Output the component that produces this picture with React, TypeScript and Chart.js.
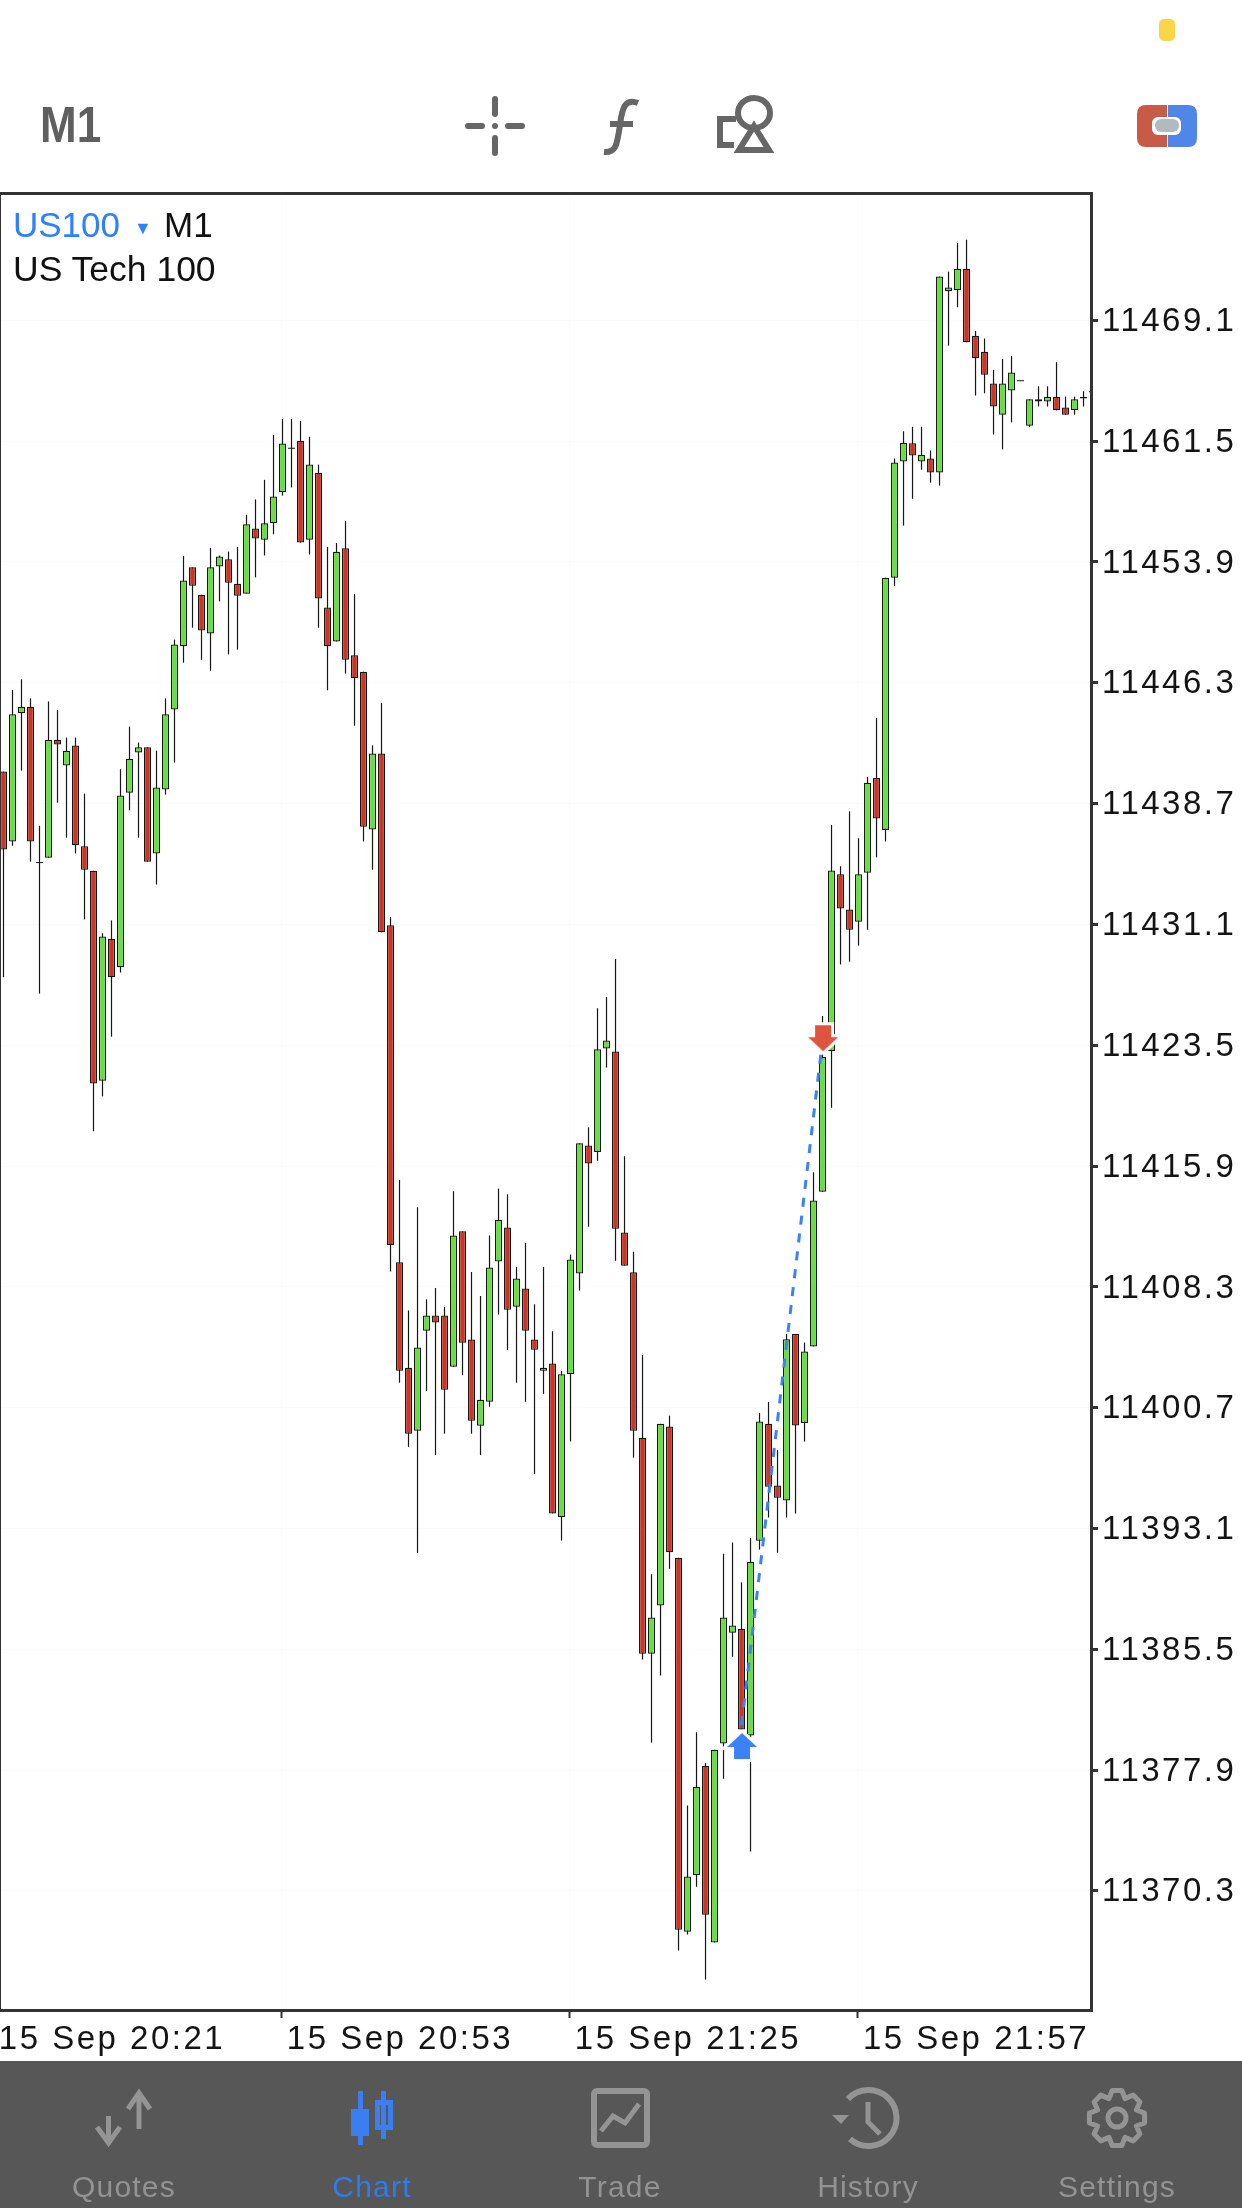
import React, {useEffect, useRef} from 'react';
import Chart from 'chart.js/auto';

// one candle per minute, first bar is 15 Sep 20:22
const opens = [
    11440.69, 11436.29, 11444.36, 11444.78, 11434.96, 11435.27, 11442.70, 11441.08, 11442.34, 11435.99,
    11434.45, 11421.23, 11430.17, 11428.37, 11439.36, 11441.89, 11442.22, 11435.54, 11439.57, 11444.60,
    11448.58, 11453.55, 11451.83, 11449.39, 11453.61, 11454.06, 11452.52, 11451.89, 11455.99, 11455.29,
    11456.32, 11458.28, 11461.05, 11461.53, 11455.29, 11459.51, 11451.02, 11448.88, 11454.75, 11448.01,
    11446.98, 11437.04, 11441.83, 11431.01, 11409.79, 11403.15, 11399.19, 11405.48, 11406.44, 11406.44,
    11403.21, 11411.74, 11404.93, 11399.50, 11401.01, 11409.84, 11411.98, 11406.99, 11408.14, 11404.93,
    11402.97, 11403.42, 11393.73, 11402.74, 11409.08, 11417.15, 11416.73, 11423.25, 11423.07, 11411.66,
    11409.16, 11398.75, 11385.15, 11388.18, 11399.45, 11391.19, 11367.63, 11371.20, 11378.09, 11366.96,
    11379.49, 11386.47, 11386.72, 11380.00, 11392.26, 11399.62, 11395.74, 11394.79, 11405.27, 11399.68,
    11404.49, 11414.23, 11423.10, 11434.22, 11432.00, 11431.24, 11434.32, 11440.29, 11437.01, 11452.90,
    11460.22, 11461.36, 11460.22, 11460.40, 11459.53, 11470.93, 11471.00, 11472.35, 11468.13, 11467.13,
    11465.13, 11463.16, 11464.68, 11465.30, 11462.47, 11464.13, 11463.99, 11464.30, 11463.61, 11463.44,
    11464.19, 11464.61,
];
const highs = [
    11440.69, 11445.84, 11446.50, 11445.30, 11437.28, 11445.11, 11444.57, 11442.83, 11442.83, 11439.30,
    11434.45, 11430.51, 11431.32, 11440.84, 11443.52, 11442.52, 11442.22, 11442.01, 11445.30, 11449.00,
    11454.27, 11453.55, 11451.83, 11454.78, 11454.30, 11454.54, 11454.84, 11456.86, 11457.83, 11459.06,
    11461.89, 11462.89, 11462.89, 11462.76, 11461.77, 11460.02, 11454.84, 11455.08, 11456.47, 11451.86,
    11446.98, 11442.34, 11445.02, 11431.53, 11414.98, 11406.76, 11413.26, 11407.46, 11408.17, 11406.97,
    11414.27, 11411.74, 11409.18, 11407.67, 11411.48, 11414.43, 11414.07, 11409.50, 11411.01, 11407.15,
    11409.50, 11405.45, 11402.95, 11410.28, 11417.28, 11418.29, 11425.79, 11426.49, 11428.89, 11416.47,
    11410.46, 11403.95, 11390.15, 11399.62, 11400.13, 11391.19, 11375.59, 11380.20, 11378.26, 11379.10,
    11391.44, 11392.15, 11389.64, 11392.43, 11400.30, 11401.00, 11397.96, 11405.27, 11405.27, 11404.74,
    11415.46, 11425.30, 11437.32, 11434.73, 11438.19, 11436.49, 11440.36, 11444.06, 11452.90, 11460.40,
    11462.12, 11462.40, 11462.40, 11460.91, 11471.86, 11472.17, 11473.97, 11474.18, 11468.44, 11467.96,
    11465.99, 11466.68, 11466.85, 11465.30, 11464.13, 11464.95, 11464.95, 11466.47, 11464.30, 11464.30,
    11464.64, 11464.86,
];
const lows = [
    11427.74, 11436.02, 11440.75, 11435.02, 11426.71, 11435.27, 11438.73, 11436.53, 11435.54, 11431.38,
    11418.04, 11420.24, 11424.00, 11428.04, 11438.25, 11436.53, 11435.02, 11433.58, 11439.24, 11441.26,
    11447.55, 11449.75, 11447.73, 11447.04, 11451.41, 11448.07, 11448.37, 11451.89, 11452.92, 11454.30,
    11455.63, 11458.07, 11458.58, 11455.11, 11454.36, 11449.75, 11445.81, 11448.88, 11446.86, 11443.58,
    11436.29, 11434.51, 11430.57, 11409.21, 11402.21, 11398.17, 11391.49, 11401.69, 11397.65, 11399.00,
    11403.21, 11402.68, 11399.00, 11397.65, 11400.70, 11406.50, 11404.28, 11402.21, 11401.01, 11396.47,
    11401.51, 11393.97, 11392.27, 11398.51, 11408.01, 11412.03, 11416.18, 11422.05, 11409.89, 11409.58,
    11397.49, 11384.78, 11379.55, 11383.77, 11390.49, 11366.45, 11367.46, 11370.47, 11364.62, 11366.96,
    11377.27, 11384.95, 11380.37, 11372.69, 11391.70, 11393.72, 11391.50, 11393.72, 11393.97, 11398.50,
    11404.49, 11414.23, 11419.52, 11428.55, 11428.72, 11429.73, 11430.73, 11435.29, 11436.29, 11452.38,
    11456.18, 11457.87, 11459.70, 11458.88, 11458.70, 11467.51, 11469.93, 11467.72, 11464.37, 11464.51,
    11461.92, 11460.98, 11462.68, 11465.30, 11462.40, 11463.68, 11463.68, 11463.44, 11463.16, 11463.16,
    11463.68, 11464.20,
];
const closes = [
    11435.78, 11444.30, 11444.78, 11436.29, 11434.96, 11442.70, 11442.40, 11442.01, 11436.05, 11434.51,
    11421.05, 11430.30, 11427.74, 11439.18, 11441.50, 11442.22, 11435.02, 11439.69, 11444.30, 11448.70,
    11452.73, 11452.40, 11449.57, 11453.55, 11454.24, 11452.58, 11451.77, 11456.26, 11455.36, 11456.32,
    11458.01, 11461.35, 11461.05, 11455.11, 11460.02, 11451.59, 11448.58, 11454.54, 11447.73, 11446.56,
    11437.22, 11441.83, 11430.57, 11410.86, 11402.97, 11399.00, 11404.43, 11406.44, 11406.00, 11401.77,
    11411.48, 11404.72, 11399.81, 11401.14, 11409.47, 11412.47, 11406.81, 11408.77, 11405.48, 11404.28,
    11403.15, 11393.97, 11402.74, 11409.97, 11417.28, 11416.02, 11423.20, 11423.75, 11411.90, 11409.58,
    11399.19, 11385.15, 11387.42, 11399.62, 11391.53, 11367.77, 11371.12, 11376.77, 11368.70, 11379.10,
    11387.42, 11386.92, 11380.37, 11390.94, 11399.76, 11395.66, 11394.96, 11404.94, 11399.51, 11404.18,
    11413.69, 11422.72, 11434.46, 11432.07, 11430.73, 11434.22, 11439.98, 11437.74, 11452.90, 11460.15,
    11461.40, 11460.60, 11460.64, 11459.53, 11471.86, 11471.17, 11472.35, 11467.72, 11466.72, 11465.68,
    11463.68, 11465.13, 11465.82, 11465.30, 11464.13, 11463.99, 11464.30, 11463.44, 11463.16, 11464.13,
    11464.30, 11464.61,
];

// tick positions, they drift a little from the printed labels
const yTicks = [11469.1, 11461.49, 11453.89, 11446.28, 11438.67, 11431.07, 11423.46, 11415.85, 11408.24, 11400.64, 11393.03, 11385.42, 11377.82, 11370.21];
const yTickLabels = ['11469.1', '11461.5', '11453.9', '11446.3', '11438.7', '11431.1', '11423.5', '11415.9', '11408.3', '11400.7', '11393.1', '11385.5', '11377.9', '11370.3'];
const xTicks = [-1.1, 30.9, 62.9, 94.9];
const xTickLabels = ['15 Sep 20:21', '15 Sep 20:53', '15 Sep 21:25', '15 Sep 21:57'];

// the trade: line from entry to exit, and the two arrows
const tradeLineX = [82, 90.83];
const tradeLineY = [11380.65, 11422.97];
const entryArrow = {x: 82.06, y: 11379.33};
const exitArrow = {x: 91.06, y: 11423.9};

const colours = {
    up: '#66DF3F',
    down: '#CC3523',
    candleBorder: '#161616',
    frame: '#333333',
    text: '#141414',
    grid: '#fbfbfb',
    blue: '#3B82F6',
    red: '#E0533F',
};

const makeArrow = (colour: string, up: boolean) => {
    const canvas = document.createElement('canvas');
    canvas.width = 46;
    canvas.height = 42;
    const ctx = canvas.getContext('2d');
    if (ctx) {
        if (!up) {
            ctx.translate(0, 42);
            ctx.scale(1, -1);
        }
        ctx.beginPath();
        ctx.moveTo(23, 8);
        ctx.lineTo(38, 22);
        ctx.lineTo(31, 22);
        ctx.lineTo(31, 34);
        ctx.lineTo(15, 34);
        ctx.lineTo(15, 22);
        ctx.lineTo(8, 22);
        ctx.closePath();
        ctx.lineJoin = 'miter';
        ctx.lineWidth = 6;
        ctx.strokeStyle = '#ffffff';
        ctx.stroke();
        ctx.fillStyle = colour;
        ctx.fill();
    }
    return canvas;
};

// outer frame of the plot, the axes only give the ticks
const framePlugin = {
    id: 'frame',
    beforeDraw: (chart: any) => {
        chart.ctx.letterSpacing = '2.5px';
    },
    afterDatasetsDraw: (chart: any) => {
        const {ctx, chartArea} = chart;
        ctx.save();
        ctx.strokeStyle = colours.frame;
        ctx.lineWidth = 3;
        ctx.beginPath();
        ctx.moveTo(0, chartArea.top - 0.5);
        ctx.lineTo(chartArea.right + 0.5, chartArea.top - 0.5);
        ctx.lineTo(chartArea.right + 0.5, chartArea.bottom + 0.5);
        ctx.lineTo(0, chartArea.bottom + 0.5);
        ctx.stroke();
        ctx.lineWidth = 1;
        ctx.beginPath();
        ctx.moveTo(0.5, chartArea.top);
        ctx.lineTo(0.5, chartArea.bottom);
        ctx.stroke();
        ctx.restore();
    },
};

const greyIcon = '#949494';
const tabBlue = '#3B7EF0';
const tabs = [
    {label: 'Quotes', x: 124, colour: '#939393'},
    {label: 'Chart', x: 372, colour: '#2E7BF0'},
    {label: 'Trade', x: 620, colour: '#939393'},
    {label: 'History', x: 868, colour: '#939393'},
    {label: 'Settings', x: 1117, colour: '#939393'},
];

const gearPath = () => {
    const parts: string[] = [];
    const teeth = 8;
    for (let t = 0; t < teeth; t++) {
        const a = (t / teeth) * Math.PI * 2 - Math.PI / 2;
        const step = (Math.PI * 2) / teeth;
        const pts = [[-0.5, 21], [-0.22, 28], [0.22, 28], [0.5, 21]].map(([k, r]) =>
            `${(1117 + Math.cos(a + k * step) * r).toFixed(1)} ${(2118 + Math.sin(a + k * step) * r).toFixed(1)}`);
        parts.push((t === 0 ? 'M' : 'L') + pts.join(' L'));
    }
    return parts.join(' ') + ' Z';
};

const Icons = () => (
    <svg width={1242} height={2208} style={{position: 'absolute', left: 0, top: 0, pointerEvents: 'none'}}>
        <rect x={1159} y={19} width={16} height={22} rx={5} fill="#F8D648"/>

        <g stroke="#666666" strokeWidth={6} strokeLinecap="round" fill="none">
            <path d="M495 99 L495 114 M495 138 L495 153 M468 126 L482 126 M508 126 L522 126"/>
            <path d="M638 103 C625 98 622 108 620 125 C617 145 616 153 604 152" strokeLinecap="butt"/>
            <path d="M610 124 L633 124" strokeLinecap="butt"/>
            <ellipse cx={754} cy={113} rx={16} ry={15}/>
            <path d="M754 126 L769 150 L739 150 Z" strokeLinecap="butt"/>
            <path d="M736 119 L720 119 L720 145 L734 145" strokeLinecap="butt"/>
        </g>
        <circle cx={495} cy={126} r={3} fill="#666666"/>

        <path d="M1146 105 L1167 105 L1167 147 L1146 147 Q1137 147 1137 138 L1137 114 Q1137 105 1146 105 Z" fill="#C95A48"/>
        <path d="M1168 105 L1188 105 Q1197 105 1197 114 L1197 138 Q1197 147 1188 147 L1168 147 Z" fill="#4F86E8"/>
        <rect x={1152} y={117} width={29} height={18} rx={6} fill="#ffffff"/>
        <rect x={1155} y={119} width={24} height={13} rx={6} fill="#B0BBC0"/>

        <rect x={0} y={2061} width={1242} height={147} fill="#575757"/>

        <g stroke={greyIcon} strokeWidth={5} fill="none">
            <path d="M108.5 2116 L108.5 2142 M97 2127 L108.5 2143 L120 2127"/>
            <path d="M139 2129 L139 2094 M128 2109 L139 2093 L150 2109"/>
            <rect x={594} y={2091} width={53} height={54} rx={3} strokeWidth={6}/>
            <path d="M601 2131 L613 2116 L625 2123 L639 2104"/>
            <path d="M848 2099 A28 28 0 1 1 850 2139" strokeWidth={6}/>
            <path d="M868 2102 L868 2122 L880 2134" strokeWidth={5}/>
            <path d={gearPath()} strokeWidth={5} strokeLinejoin="round"/>
            <circle cx={1117} cy={2118} r={9}/>
        </g>
        <path d="M832 2115 L849 2115 L841 2124 Z" fill={greyIcon}/>

        <g fill={tabBlue}>
            <rect x={358} y={2091} width={5} height={54}/>
            <rect x={351} y={2109} width={18} height={27}/>
            <rect x={381} y={2091} width={5} height={48}/>
            <path d="M375 2100 L393 2100 L393 2130 L375 2130 Z M380 2105 L380 2125 L388 2125 L388 2105 Z" fillRule="evenodd"/>
        </g>
    </svg>
);

const labelFont = '"Liberation Sans", Arial, sans-serif';

export default function App() {
    const canvasRef = useRef<HTMLCanvasElement>(null);

    useEffect(() => {
        document.body.style.margin = '0';
        const ctx = canvasRef.current?.getContext('2d');
        if (!ctx) return;

        const isDoji = (i: number) => opens[i] === closes[i];
        const indexes = opens.map((_, i) => i);

        const chart = new Chart(ctx, {
            type: 'bar',
            data: {
                datasets: [
                    {
                        type: 'line',
                        data: [entryArrow],
                        showLine: false,
                        pointStyle: makeArrow(colours.blue, true),
                    },
                    {
                        type: 'line',
                        data: [exitArrow],
                        showLine: false,
                        pointStyle: makeArrow(colours.red, false),
                    },
                    {
                        type: 'line',
                        data: tradeLineX.map((x, i) => ({x, y: tradeLineY[i]})),
                        borderColor: colours.blue,
                        borderWidth: 3,
                        borderDash: [9, 9],
                        pointRadius: 0,
                        fill: false,
                    },
                    {
                        // zero-height candles, a bar would not show
                        type: 'line',
                        data: indexes.filter(isDoji).map(i => ({x: i, y: closes[i]})),
                        showLine: false,
                        pointStyle: 'line',
                        pointRadius: 3.5,
                        pointBorderWidth: 1,
                        pointBorderColor: colours.candleBorder,
                    },
                    {
                        label: 'Body',
                        data: indexes.map(i => ({x: i, y: isDoji(i) ? null : [opens[i], closes[i]]})),
                        backgroundColor: indexes.map(i => closes[i] >= opens[i] ? colours.up : colours.down),
                        borderColor: colours.candleBorder,
                        borderWidth: 1.25,
                        borderSkipped: false,
                        inflateAmount: 0,
                        grouped: false,
                        barPercentage: 1,
                        categoryPercentage: 1,
                        maxBarThickness: 7,
                    },
                    {
                        label: 'Wick',
                        data: indexes.map(i => ({x: i, y: [lows[i], highs[i]]})),
                        backgroundColor: colours.candleBorder,
                        borderWidth: 0,
                        inflateAmount: 0,
                        grouped: false,
                        barPercentage: 1,
                        categoryPercentage: 1,
                        maxBarThickness: 1.2,
                    },
                ] as any,
            },
            options: {
                animation: false,
                responsive: false,
                devicePixelRatio: 1,
                // autoPadding would push the plot in by the point radius
                layout: {autoPadding: false, padding: {top: 194, bottom: 149, left: 0, right: 0}},
                plugins: {
                    legend: {display: false},
                    tooltip: {enabled: false},
                },
                scales: {
                    x: {
                        type: 'linear',
                        offset: false,
                        min: -0.389,
                        max: 120.83,
                        afterBuildTicks: (axis: any) => {
                            axis.ticks = xTicks.map(value => ({value}));
                        },
                        afterFit: (axis: any) => {
                            axis.paddingLeft = 0;
                            axis.paddingRight = 0;
                            axis.height = 49;
                        },
                        grid: {
                            offset: false,
                            color: colours.grid,
                            tickColor: colours.frame,
                            tickLength: 8,
                            tickWidth: 2,
                        },
                        border: {display: false},
                        ticks: {
                            autoSkip: false,
                            maxRotation: 0,
                            minRotation: 0,
                            align: 'start',
                            padding: 2,
                            color: colours.text,
                            font: {family: labelFont, size: 33},
                            callback: (_value: any, index: number) => '\u200A' + xTickLabels[index],
                        },
                    },
                    y: {
                        type: 'linear',
                        position: 'right',
                        min: 11362.71,
                        max: 11477.06,
                        afterBuildTicks: (axis: any) => {
                            axis.ticks = yTicks.map(value => ({value}));
                        },
                        afterFit: (axis: any) => {
                            axis.width = 151;
                        },
                        grid: {
                            color: colours.grid,
                            tickColor: colours.frame,
                            tickLength: 7,
                            tickWidth: 3,
                        },
                        border: {display: false},
                        ticks: {
                            autoSkip: false,
                            padding: 4,
                            labelOffset: 1.5,
                            crossAlign: 'near',
                            color: colours.text,
                            font: {family: labelFont, size: 33},
                            callback: (_value: any, index: number) => yTickLabels[index],
                        },
                    },
                },
            } as any,
            plugins: [framePlugin],
        });

        return () => {
            chart.destroy();
        };
    }, []);

    return (
        <div style={{position: 'relative', width: 1242, height: 2208, overflow: 'hidden', background: '#fff', fontFamily: labelFont}}>
            <canvas ref={canvasRef} width={1242} height={2208} style={{position: 'absolute', left: 0, top: 0}}/>
            <Icons/>
            <div style={{position: 'absolute', left: 40, top: 100, fontSize: 50, lineHeight: '50px', fontWeight: 'bold', color: '#5f5f5f', transform: 'scaleX(0.88)', transformOrigin: 'left'}}>M1</div>
            <div style={{position: 'absolute', left: 13, top: 208, fontSize: 35, lineHeight: '34px', color: '#2F80FF'}}>US100</div>
            <div style={{position: 'absolute', left: 134, top: 214, fontSize: 18, lineHeight: '28px', color: '#2F80FF'}}>▼</div>
            <div style={{position: 'absolute', left: 164, top: 208, fontSize: 35, lineHeight: '34px', color: '#111'}}>M1</div>
            <div style={{position: 'absolute', left: 13, top: 252, fontSize: 35.5, lineHeight: '34px', color: '#111'}}>US Tech 100</div>
            {tabs.map(tab => (
                <div key={tab.label} style={{position: 'absolute', left: tab.x - 100, width: 200, top: 2172, textAlign: 'center', fontSize: 30, lineHeight: '30px', letterSpacing: 1.2, color: tab.colour}}>{tab.label}</div>
            ))}
        </div>
    );
}
